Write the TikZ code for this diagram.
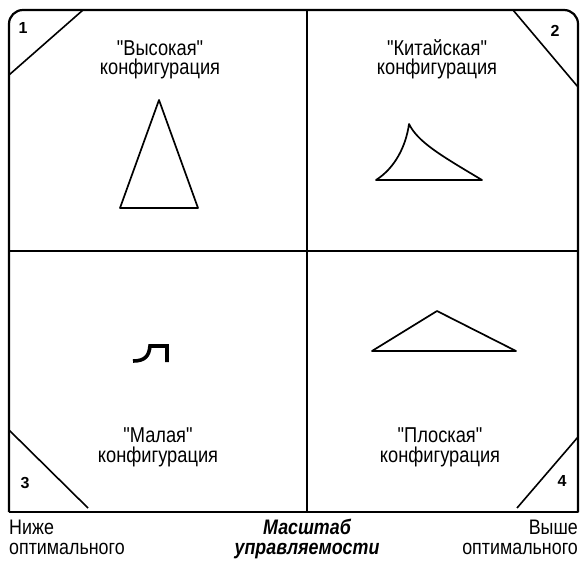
\documentclass[tikz,border=0pt]{standalone}
\usepackage{fontspec}
\setmainfont{Liberation Sans}[FakeStretch=0.85, Ligatures=TeXOff]
\newfontfamily\numfont{Liberation Sans}
\usetikzlibrary{positioning}

\begin{document}
\begin{tikzpicture}[
    x=1pt, y=-1pt,
    frame/.style={line width=2.2pt, line join=round},
    figure/.style={line width=1.7pt, line join=round},
    cutline/.style={line width=1.6pt},
    caption/.style={align=center, inner sep=0pt, anchor=base,
        font=\fontsize{21.5}{19.5}\selectfont},
    edgetext/.style={inner sep=0pt, anchor=base,
        font=\fontsize{21}{20}\selectfont},
    cornerno/.style={inner sep=0pt, font=\numfont\bfseries\fontsize{16}{16}\selectfont}
]

\useasboundingbox (0,0) rectangle (580,567);

% Frame and dividers
\draw[frame, rounded corners=14pt] (9,512) -- (9,10) -- (578,10) -- (578,512);
\draw[frame] (578,500) -- (578,512) -- (9,512);
\draw[frame] (307,10) -- (307,512);
\draw[frame] (9,251) -- (578,251);

% Corner cuts
\draw[cutline] (9,75) -- (83,10);
\draw[cutline] (513,10) -- (578,87);
\draw[cutline] (9,430) -- (88,508);
\draw[cutline] (517,508) -- (578,437);
\node[cornerno] (n1) at (23,28) {1};
\node[cornerno] (n2) at (555,31) {2};
\node[cornerno] (n3) at (25,483) {3};
\node[cornerno] (n4) at (562,481) {4};

% Quadrant captions
\node[caption] (high) at (160,75) {"Высокая"\\конфигурация};
\node[caption] (china) at (437,75) {"Китайская"\\конфигурация};
\node[caption] (small) at (158,462) {"Малая"\\конфигурация};
\node[caption] (flat) at (440,462) {"Плоская"\\конфигурация};

% Figures
\draw[figure] (159,100) -- (198,208) -- (120,208) -- cycle;
\draw[figure] (409,124) .. controls (418,142) and (440,155) .. (482,180)
    -- (376,180) .. controls (395,168) and (406,146) .. cycle;
\draw[figure] (437,311) -- (516,351) -- (372,351) -- cycle;
\draw[line width=3.6pt] (133,361) .. controls (145,361) and (149,356) .. (150,346)
    -- (167,346) -- (167,362);

% Scale labels
\node[edgetext, align=left, anchor=base west] (below) at (9,554) {Ниже\\оптимального};
\node[edgetext, align=right, anchor=base east] (above) at (578,554) {Выше\\оптимального};
\node[edgetext, align=center, font=\bfseries\itshape\fontsize{21}{20}\selectfont] (scale) at (307,554) {Масштаб\\управляемости};

\end{tikzpicture}
\end{document}
